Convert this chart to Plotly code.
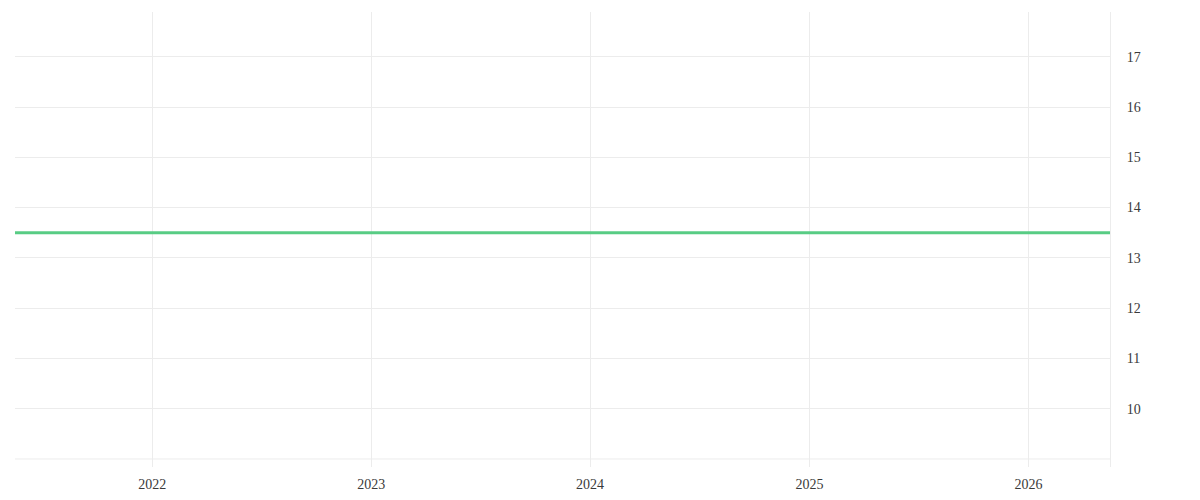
import plotly.graph_objects as go

# series: flat value across the whole window
DATES = ["2021-05-17", "2026-05-17"]
VALUES = [13.5, 13.5]

X_RANGE = ["2021-05-17", "2026-05-17"]
Y_RANGE = [8.84, 17.89]
Y_TICKS = [10, 11, 12, 13, 14, 15, 16, 17]

GREEN = "#58cc84"
GRID = "#ececec"
FONT = "Liberation Serif, Times New Roman, serif"

fig = go.Figure()
fig.add_trace(go.Scatter(
    x=DATES, y=VALUES, mode="lines",
    line=dict(color=GREEN, width=3),
    hoverinfo="x+y", showlegend=False,
))

fig.update_layout(
    width=1200, height=500,
    paper_bgcolor="white", plot_bgcolor="white",
    margin=dict(l=7, r=98, t=4, b=41),
    font=dict(family=FONT, size=14, color="#3a3a3a"),
)
fig.update_xaxes(
    type="date", range=X_RANGE, dtick="M12", tick0="2022-01-01",
    tickformat="%Y", showgrid=True, gridcolor=GRID, gridwidth=1,
    zeroline=False, showline=False, ticks="", ticklabelstandoff=7,
)
fig.update_yaxes(
    side="right", range=Y_RANGE, tickvals=Y_TICKS,
    showgrid=True, gridcolor=GRID, gridwidth=1, zeroline=False,
    showline=True, linecolor=GRID, linewidth=1, ticks="", ticklabelstandoff=13,
)
# bottom gridline at 9 (unlabelled)
fig.add_hline(y=9, line=dict(color=GRID, width=1), layer="below")

fig.write_html("out.html")
